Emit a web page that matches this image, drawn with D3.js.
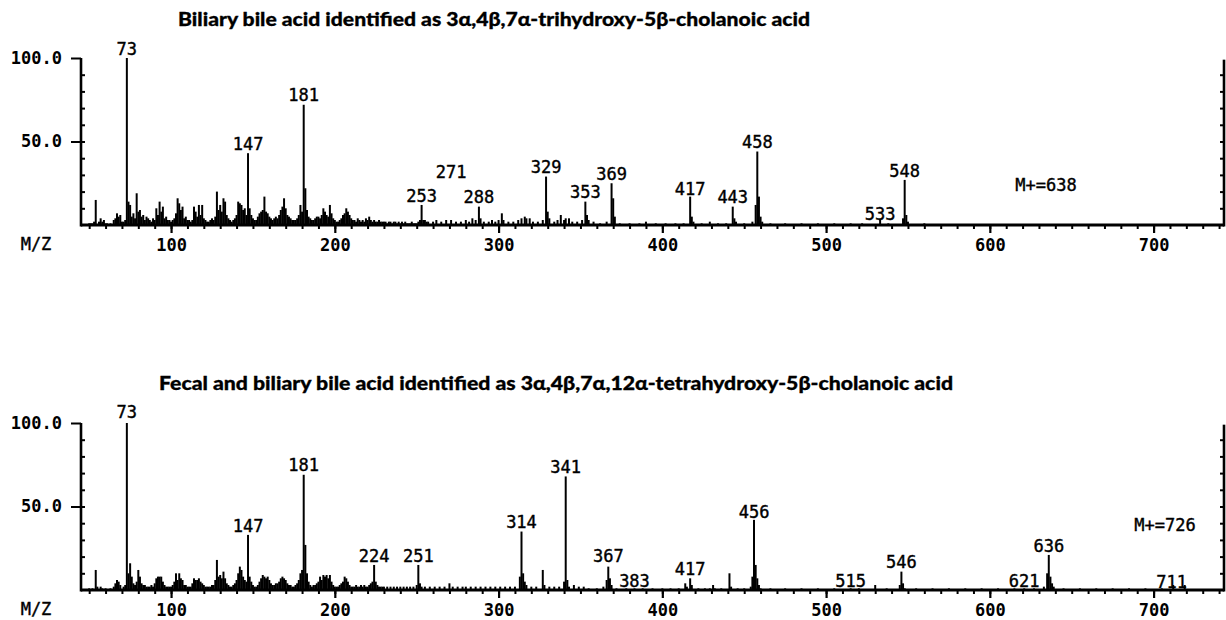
<!DOCTYPE html>
<html><head><meta charset="utf-8">
<script src="https://cdn.jsdelivr.net/npm/d3@7"></script>
<style>
body{margin:0;background:#fff;}
svg{display:block;}
</style></head>
<body><svg id="c" width="1226" height="620"></svg>
<script>
// ---------- DATA ----------
const titleTop = "Biliary bile acid identified as 3α,4β,7α-trihydroxy-5β-cholanoic acid";
const titleBottom = "Fecal and biliary bile acid identified as 3α,4β,7α,12α-tetrahydroxy-5β-cholanoic acid";
const xTickLabels = [100,200,300,400,500,600,700];
const yTickLabels = [[50,"50.0"],[100,"100.0"]];
const molIonTop = "M+=638";
const molIonBottom = "M+=726";

// [m/z, relative intensity]
const peaksTop = [[50,1],[51,1],[52,1],[53,2],[54,15],[56,2],[57,4],[58,2],[59,3],[60,1],[61,1],[63,1],[65,3],[66,4],[67,7],[68,5],[69,6],[70,2],[71,2],[72,3],[73,100],[74,14],[75,12],[76,5],[77,7],[78,4],[79,19],[80,8],[81,9],[82,5],[83,6],[84,3],[85,5],[86,4],[87,3],[88,2],[89,4],[90,3],[91,10],[92,6],[93,14],[94,8],[95,11],[96,4],[97,5],[98,3],[99,3],[100,2],[101,3],[102,4],[103,7],[104,16],[105,13],[106,9],[107,11],[108,4],[109,5],[110,3],[111,3],[112,2],[113,3],[114,11],[115,8],[116,5],[117,12],[118,6],[119,12],[120,4],[121,3],[122,2],[123,2],[124,3],[125,4],[126,3],[127,5],[128,20],[129,9],[130,12],[131,8],[132,16],[133,14],[134,6],[135,4],[136,3],[137,2],[138,3],[139,4],[140,6],[141,14],[142,13],[143,12],[144,9],[145,10],[146,6],[147,43],[148,10],[149,6],[150,4],[151,3],[152,3],[153,5],[154,7],[155,8],[156,9],[157,17],[158,8],[159,7],[160,5],[161,4],[162,3],[163,4],[164,5],[165,4],[166,6],[167,9],[168,11],[169,16],[170,10],[171,6],[172,5],[173,4],[174,3],[175,3],[176,3],[177,4],[178,6],[179,12],[180,8],[181,72],[182,22],[183,9],[184,5],[185,4],[186,3],[187,3],[188,4],[189,5],[190,5],[191,4],[192,6],[193,10],[194,8],[195,6],[196,5],[197,12],[198,7],[199,4],[200,3],[201,2],[202,2],[203,3],[204,4],[205,6],[206,7],[207,10],[208,8],[209,6],[210,4],[211,3],[212,3],[213,2],[214,4],[215,3],[216,2],[217,3],[218,2],[219,4],[220,3],[221,5],[222,3],[223,2],[224,3],[225,2],[226,2],[227,3],[228,2],[229,2],[230,2],[231,2],[232,1],[233,2],[234,2],[235,1],[236,2],[237,2],[238,1],[239,2],[240,1],[241,2],[242,1],[243,2],[244,1],[245,1],[246,1],[247,2],[248,1],[249,1],[250,1],[251,2],[252,3],[253,12],[254,3],[255,3],[256,2],[257,2],[260,2],[262,3],[265,2],[268,3],[271,3],[274,2],[277,2],[280,3],[282,2],[284,4],[286,3],[288,11],[289,4],[291,2],[294,2],[296,3],[298,2],[300,3],[302,7],[303,3],[306,2],[309,2],[312,3],[314,4],[316,5],[317,4],[319,4],[321,2],[324,2],[327,3],[329,29],[330,8],[331,4],[334,2],[336,3],[338,6],[340,3],[341,4],[343,4],[345,2],[348,2],[351,3],[353,14],[354,6],[355,3],[358,2],[362,1],[366,2],[369,25],[370,16],[371,5],[374,1],[380,1],[386,1],[390,2],[396,1],[402,1],[408,1],[413,1],[417,17],[418,5],[419,2],[424,1],[429,2],[434,1],[439,1],[443,11],[444,4],[445,2],[450,1],[455,2],[457,12],[458,44],[459,17],[460,5],[461,2],[466,1],[475,1],[485,1],[495,1],[505,1],[515,1],[522,1],[533,3],[538,1],[547,4],[548,27],[549,6],[550,2],[560,1]];

const peaksBottom = [[50,1],[52,1],[54,12],[55,2],[57,2],[58,1],[60,1],[63,1],[65,2],[66,4],[67,6],[68,5],[69,3],[71,2],[72,3],[73,100],[74,10],[75,16],[76,8],[77,4],[78,3],[79,5],[80,12],[81,8],[82,4],[83,3],[84,3],[85,2],[86,2],[87,2],[88,3],[89,2],[90,4],[91,7],[92,8],[93,8],[94,8],[95,5],[96,3],[97,2],[98,2],[99,2],[100,2],[101,3],[102,5],[103,10],[104,6],[105,10],[106,7],[107,6],[108,3],[109,3],[110,2],[111,2],[112,2],[113,4],[114,7],[115,6],[116,6],[117,7],[118,5],[119,4],[120,3],[121,2],[122,2],[123,2],[124,2],[125,3],[126,3],[127,6],[128,18],[129,8],[130,9],[131,7],[132,11],[133,7],[134,4],[135,3],[136,2],[137,2],[138,3],[139,4],[140,6],[141,10],[142,14],[143,12],[144,8],[145,6],[146,5],[147,33],[148,8],[149,5],[150,3],[151,2],[152,2],[153,3],[154,5],[155,7],[156,9],[157,8],[158,7],[159,8],[160,6],[161,4],[162,3],[163,3],[164,4],[165,4],[166,5],[167,7],[168,8],[169,7],[170,6],[171,4],[172,3],[173,3],[174,2],[175,2],[176,3],[177,4],[178,6],[179,10],[180,12],[181,69],[182,27],[183,10],[184,5],[185,3],[186,2],[187,3],[188,3],[189,4],[190,5],[191,8],[192,6],[193,9],[194,8],[195,9],[196,7],[197,9],[198,5],[199,3],[200,2],[201,2],[202,2],[203,3],[204,4],[205,5],[206,8],[207,7],[208,5],[209,3],[210,2],[211,2],[212,2],[213,3],[214,2],[215,2],[216,3],[217,2],[218,3],[219,2],[220,2],[221,3],[222,4],[223,5],[224,15],[225,5],[226,3],[227,2],[228,2],[229,2],[230,2],[232,2],[234,2],[236,2],[238,2],[240,2],[242,2],[244,2],[246,2],[248,2],[250,3],[251,15],[252,4],[253,2],[255,2],[258,2],[261,2],[264,2],[267,2],[270,4],[272,2],[275,2],[278,2],[280,2],[283,2],[286,2],[289,2],[292,2],[295,2],[298,2],[301,2],[304,2],[307,2],[310,2],[313,8],[314,35],[315,10],[316,5],[317,3],[320,2],[323,2],[327,12],[328,3],[331,2],[334,2],[337,2],[340,5],[341,68],[342,6],[343,2],[346,3],[349,2],[352,2],[355,1],[360,1],[364,2],[366,6],[367,14],[368,7],[369,3],[372,1],[378,1],[383,1],[388,1],[394,1],[400,1],[405,1],[410,1],[414,4],[415,2],[417,7],[418,3],[422,1],[426,1],[429,1],[431,3],[432,1],[436,1],[441,10],[442,2],[446,1],[450,1],[454,2],[455,8],[456,42],[457,15],[458,7],[459,3],[460,1],[466,1],[475,1],[485,1],[495,1],[505,1],[515,1],[520,1],[530,3],[537,1],[545,3],[546,11],[547,4],[548,1],[555,1],[565,1],[575,1],[585,1],[595,1],[605,1],[615,1],[621,1],[627,1],[633,2],[635,10],[636,21],[637,8],[638,4],[639,2],[645,1],[655,1],[665,1],[675,1],[685,1],[695,1],[705,1],[712,3],[719,3]];

// [m/z, label, label level (intensity)]
const labelsTop = [[73,"73",102],[147,"147",45],[181,"181",74],[253,"253",14],[271,"271",28],[288,"288",13],[329,"329",31],[353,"353",16],[369,"369",27],[417,"417",18],[443,"443",13],[458,"458",46],[533,"533",3],[548,"548",29]];
const labelsBottom = [[73,"73",103],[147,"147",35],[181,"181",71],[224,"224",17],[251,"251",17],[314,"314",37],[341,"341",70],[367,"367",17],[383,"383",2],[417,"417",9],[456,"456",43],[515,"515",2],[546,"546",13],[621,"621",2],[636,"636",23],[711,"711",1]];

// ---------- DRAW ----------
const svg = d3.select("#c");
const x = d3.scaleLinear().domain([45,743]).range([81,1224]);
const mono = '"DejaVu Sans Mono", monospace';

function panel(cfg){
  const y = d3.scaleLinear().domain([0,100]).range([cfg.y0, cfg.y100]);
  const g = svg.append("g");
  // title
  g.append("text").attr("x", cfg.tx).attr("y", cfg.ty)
    .attr("text-anchor","middle")
    .attr("font-family","Lato, 'Open Sans', sans-serif")
    .attr("font-weight",900).attr("font-size",18)
    .attr("stroke","#000").attr("stroke-width",0.3)
    .attr("textLength", cfg.tlen).attr("lengthAdjust","spacingAndGlyphs")
    .text(cfg.title);
  // peaks
  g.append("g").selectAll("line").data(cfg.peaks).join("line")
    .attr("x1", d=>x(d[0])).attr("x2", d=>x(d[0]))
    .attr("y1", y(0)).attr("y2", d=>y(d[1]))
    .attr("stroke","#000").attr("stroke-width",2);
  // x axis minor
  const ax1 = g.append("g").attr("transform",`translate(0,${y(0)})`)
    .call(d3.axisBottom(x).tickValues(d3.range(50,741,10)).tickSize(4).tickFormat(""));
  ax1.select(".domain").remove();
  ax1.selectAll("line").attr("stroke-width",2);
  const ax2 = g.append("g").attr("transform",`translate(0,${y(0)})`)
    .call(d3.axisBottom(x).tickValues(xTickLabels).tickSize(8).tickPadding(6).tickFormat(d3.format("d")));
  ax2.select(".domain").remove();
  ax2.selectAll("line").attr("stroke-width",2.2);
  ax2.selectAll("text").attr("font-family",mono).attr("font-size",17).attr("font-weight","bold").attr("fill","#000");
  // baseline
  g.append("line").attr("x1",x(45)).attr("x2",x(743)).attr("y1",y(0)).attr("y2",y(0))
    .attr("stroke","#000").attr("stroke-width",3);
  // left y axis
  const ay1 = g.append("g").attr("transform",`translate(${x(45)},0)`)
    .call(d3.axisRight(y).tickValues(d3.range(10,100,10)).tickSize(4).tickFormat(""));
  ay1.select(".domain").remove(); ay1.selectAll("line").attr("stroke-width",2);
  const ay2 = g.append("g").attr("transform",`translate(${x(45)},0)`)
    .call(d3.axisLeft(y).tickValues(yTickLabels.map(d=>d[0])).tickSize(10).tickPadding(9)
      .tickFormat(v=>yTickLabels.find(d=>d[0]===v)[1]));
  ay2.select(".domain").remove(); ay2.selectAll("line").attr("stroke-width",2);
  ay2.selectAll("text").attr("font-family",mono).attr("font-size",17).attr("font-weight","bold").attr("fill","#000");
  g.append("line").attr("x1",x(45)).attr("x2",x(45)).attr("y1",y(100)).attr("y2",y(0)+1.5)
    .attr("stroke","#000").attr("stroke-width",2.6);
  // right axis
  const ar = g.append("g").attr("transform",`translate(${x(743)},0)`)
    .call(d3.axisLeft(y).tickValues(d3.range(10,100,10)).tickSize(4).tickFormat(""));
  ar.select(".domain").remove(); ar.selectAll("line").attr("stroke-width",2);
  g.append("line").attr("x1",x(743)).attr("x2",x(743)).attr("y1",y(99)).attr("y2",y(0)+1.5)
    .attr("stroke","#000").attr("stroke-width",2.6);
  // M/Z
  g.append("text").attr("x",36).attr("y",y(0)+25).attr("text-anchor","middle")
    .attr("font-family",mono).attr("font-size",17).attr("stroke","#000").attr("stroke-width",0.4).text("M/Z");
  // peak labels
  g.append("g").selectAll("text").data(cfg.labels).join("text")
    .attr("x", d=>x(d[0])).attr("y", d=>y(d[2]))
    .attr("text-anchor","middle").attr("font-family",mono).attr("font-size",17)
    .attr("stroke","#000").attr("stroke-width",0.4)
    .text(d=>d[1]);
  // molecular ion
  g.append("text").attr("x",cfg.mx).attr("y",cfg.my).attr("text-anchor","middle")
    .attr("font-family",mono).attr("font-size",17).attr("stroke","#000").attr("stroke-width",0.4).text(cfg.mol);
}

panel({y0:225, y100:58, title:titleTop, tx:494, ty:26, tlen:632, peaks:peaksTop, labels:labelsTop, mol:molIonTop, mx:1046, my:191});
panel({y0:590, y100:423, title:titleBottom, tx:556, ty:390, tlen:794, peaks:peaksBottom, labels:labelsBottom, mol:molIonBottom, mx:1165, my:531});
</script></body></html>
